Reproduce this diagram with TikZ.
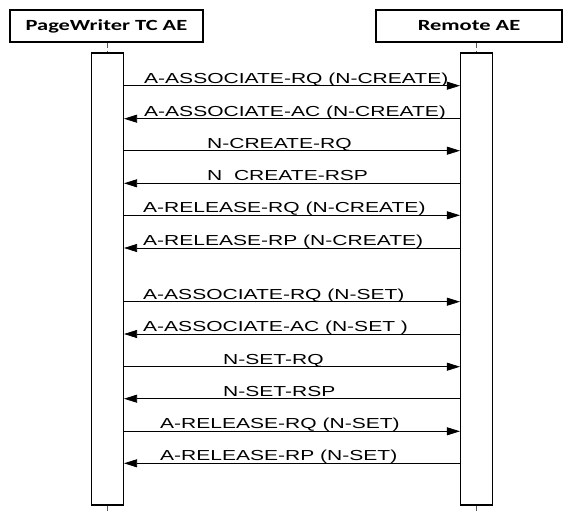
\documentclass[tikz,border=0pt]{standalone}
\usepackage{fontspec}
\usetikzlibrary{arrows.meta}
\newfontfamily\msgfont[FakeStretch=1.45]{Liberation Sans}
\newfontfamily\headfont[FakeStretch=1.45]{Carlito}

\begin{document}
\begin{tikzpicture}[x=1pt, y=-1pt,
    header/.style={draw, line width=1.2pt, minimum width=193pt, minimum height=32pt, inner sep=0pt,
      font=\headfont\bfseries\fontsize{15.5}{18}\selectfont},
    bar/.style={draw, line width=1.5pt, fill=white, minimum width=32pt, minimum height=452pt, inner sep=0pt},
    lifeline/.style={gray!70!black, line width=0.8pt, dash pattern=on 5pt off 3pt},
    msg/.style={line width=0.8pt, -{Triangle[length=13pt, width=8pt]}},
    msglabel/.style={anchor=base west, inner sep=0pt, font=\msgfont\fontsize{14.5}{17}\selectfont}]
    \useasboundingbox (0,0) rectangle (563,512);

    % Participants
    \node[header] (pw) at (106.5,26) {PageWriter TC AE};
    \node[header, minimum width=186pt] (remote) at (469,26) {Remote AE};

    % Activation bars
    \node[bar] (lbar) at (107.3,279.2) {};
    \node[bar] (rbar) at (476.7,279.2) {};

    % Lifelines above and below the bars
    \coordinate (lend) at (107.3,512);
    \coordinate (rend) at (476.7,512);
    \draw[lifeline] (lbar.north |- pw.south) -- (lbar.north);
    \draw[lifeline] (rbar.north |- remote.south) -- (rbar.north);
    \draw[lifeline] (lbar.south) -- (lend);
    \draw[lifeline] (rbar.south) -- (rend);

    % Messages: y / label x / from / to / text
    \foreach \y/\lx/\from/\to/\txt [count=\i] in {
        85.7/144/l/r/{A-ASSOCIATE-RQ (N-CREATE)},
        118.7/144/r/l/{A-ASSOCIATE-AC (N-CREATE)},
        150.7/207/l/r/{N-CREATE-RQ},
        183.3/207/r/l/{N\ \ CREATE-RSP},
        215.3/143/l/r/{A-RELEASE-RQ (N-CREATE)},
        248/143/r/l/{A-RELEASE-RP (N-CREATE)},
        301.7/143/l/r/{A-ASSOCIATE-RQ (N-SET)},
        334/143/r/l/{A-ASSOCIATE-AC (N-SET )},
        366.7/223/l/r/{N-SET-RQ},
        398.7/223/r/l/{N-SET-RSP},
        431.3/160/l/r/{A-RELEASE-RQ (N-SET)},
        463.3/160/r/l/{A-RELEASE-RP (N-SET)}} {
        \coordinate (l\i) at (lbar.east |- 0,\y);
        \coordinate (r\i) at (rbar.west |- 0,\y);
        \draw[msg] (\from\i) -- (\to\i);
        \node[msglabel] (m\i) at (\lx,\y-2.5) {\txt};
    }
\end{tikzpicture}
\end{document}
